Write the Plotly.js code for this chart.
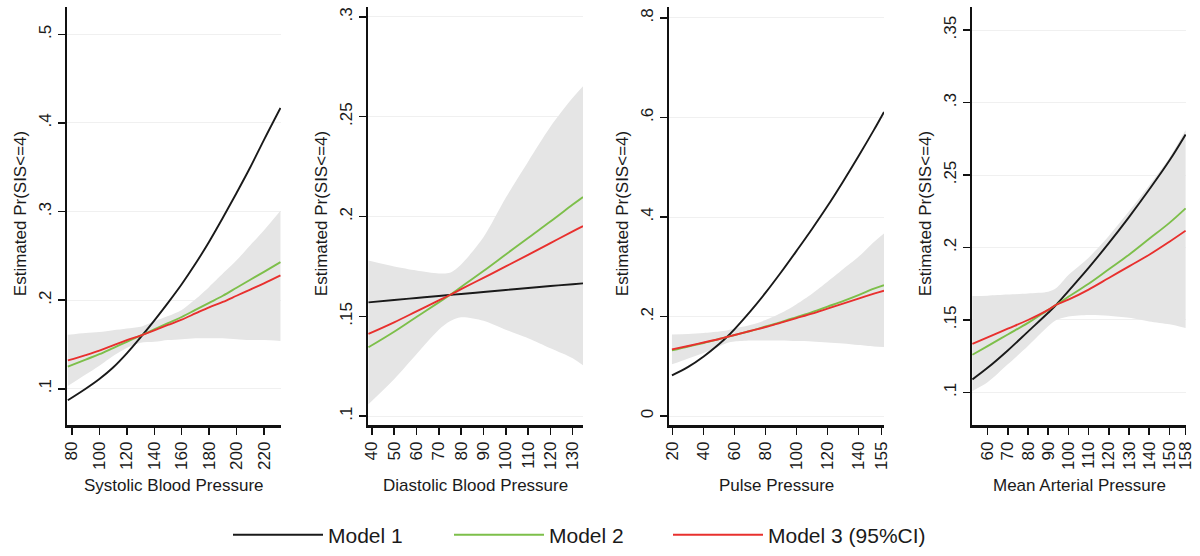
<!DOCTYPE html>
<html>
<head>
<meta charset="utf-8">
<script src="https://cdn.plot.ly/plotly-3.0.1.min.js"></script>
<style>html,body{margin:0;padding:0;background:#fff;}#chart{width:1200px;height:556px;}</style>
</head>
<body>
<div id="chart"></div>
<script>
// ---------- Panel 1: Systolic Blood Pressure ----------
const sbpX      = [77, 90, 100, 110, 120, 130, 140, 150, 160, 170, 180, 190, 200, 210, 220, 232];
const sbpModel1 = [0.087, 0.100, 0.111, 0.124, 0.140, 0.158, 0.177, 0.197, 0.218, 0.241, 0.266, 0.293, 0.321, 0.350, 0.381, 0.417];
const sbpModel2 = [0.125, 0.133, 0.139, 0.146, 0.153, 0.160, 0.167, 0.174, 0.181, 0.189, 0.197, 0.205, 0.214, 0.223, 0.232, 0.243];
const sbpModel3 = [0.132, 0.138, 0.143, 0.149, 0.155, 0.160, 0.166, 0.172, 0.178, 0.185, 0.192, 0.198, 0.205, 0.212, 0.219, 0.228];
const sbpUpper  = [0.161, 0.163, 0.164, 0.166, 0.168, 0.170, 0.176, 0.182, 0.189, 0.201, 0.215, 0.230, 0.245, 0.262, 0.279, 0.301];
const sbpLower  = [0.103, 0.116, 0.126, 0.137, 0.146, 0.152, 0.153, 0.155, 0.156, 0.157, 0.157, 0.157, 0.156, 0.155, 0.155, 0.154];

// ---------- Panel 2: Diastolic Blood Pressure ----------
const dbpX      = [38.5, 50, 60, 70, 75, 80, 90, 100, 110, 120, 130, 134.6];
const dbpModel1 = [0.157, 0.1582, 0.1592, 0.1602, 0.1607, 0.1612, 0.1622, 0.1632, 0.1642, 0.1652, 0.1661, 0.1665];
const dbpModel2 = [0.1345, 0.1423, 0.1497, 0.157, 0.1607, 0.1647, 0.1727, 0.181, 0.1893, 0.1975, 0.206, 0.2098];
const dbpModel3 = [0.1412, 0.147, 0.1525, 0.158, 0.1607, 0.1636, 0.1693, 0.175, 0.1808, 0.1867, 0.1926, 0.1952];
const dbpUpper  = [0.178, 0.175, 0.173, 0.1715, 0.1718, 0.176, 0.1896, 0.2094, 0.2275, 0.245, 0.2595, 0.2653];
const dbpLower  = [0.106, 0.1185, 0.131, 0.1433, 0.1475, 0.1495, 0.1478, 0.1433, 0.139, 0.134, 0.129, 0.1255];

// ---------- Panel 3: Pulse Pressure ----------
const ppX      = [19.5, 30, 40, 50, 55, 60, 70, 80, 90, 100, 110, 120, 130, 140, 150, 156.5];
const ppModel1 = [0.082, 0.099, 0.120, 0.145, 0.159, 0.175, 0.210, 0.248, 0.289, 0.332, 0.376, 0.422, 0.471, 0.522, 0.575, 0.611];
const ppModel2 = [0.132, 0.140, 0.147, 0.155, 0.159, 0.163, 0.171, 0.180, 0.189, 0.199, 0.209, 0.220, 0.231, 0.243, 0.256, 0.263];
const ppModel3 = [0.134, 0.141, 0.148, 0.155, 0.159, 0.163, 0.171, 0.179, 0.188, 0.197, 0.206, 0.216, 0.226, 0.236, 0.246, 0.252];
const ppUpper  = [0.164, 0.165, 0.167, 0.170, 0.172, 0.176, 0.183, 0.193, 0.207, 0.225, 0.246, 0.270, 0.295, 0.320, 0.350, 0.367];
const ppLower  = [0.104, 0.116, 0.127, 0.140, 0.147, 0.150, 0.152, 0.152, 0.152, 0.151, 0.150, 0.148, 0.146, 0.143, 0.140, 0.139];

// ---------- Panel 4: Mean Arterial Pressure ----------
const mapX      = [52.5, 60, 70, 80, 90, 94, 100, 110, 120, 130, 140, 150, 158];
const mapModel1 = [0.109, 0.117, 0.129, 0.142, 0.155, 0.1605, 0.170, 0.186, 0.203, 0.221, 0.240, 0.260, 0.278];
const mapModel2 = [0.126, 0.132, 0.140, 0.148, 0.157, 0.1605, 0.166, 0.175, 0.185, 0.195, 0.206, 0.217, 0.227];
const mapModel3 = [0.1335, 0.138, 0.144, 0.150, 0.157, 0.1605, 0.164, 0.171, 0.179, 0.187, 0.195, 0.204, 0.2116];
const mapUpper  = [0.1665, 0.1668, 0.1675, 0.1683, 0.1695, 0.172, 0.181, 0.193, 0.208, 0.225, 0.243, 0.262, 0.281];
const mapLower  = [0.101, 0.107, 0.1194, 0.132, 0.1456, 0.150, 0.1524, 0.1535, 0.153, 0.1515, 0.149, 0.147, 0.1444];

// ---------- Axis labels / ticks ----------
const xTitles = ["Systolic Blood Pressure", "Diastolic Blood Pressure", "Pulse Pressure", "Mean Arterial Pressure"];
const yTitle  = "Estimated Pr(SIS<=4)";
const modelNames = ["Model 1", "Model 2", "Model 3 (95%CI)"];

const xTickVals = [
  [80, 100, 120, 140, 160, 180, 200, 220],
  [40, 50, 60, 70, 80, 90, 100, 110, 120, 130],
  [20, 40, 60, 80, 100, 120, 140, 155],
  [60, 70, 80, 90, 100, 110, 120, 130, 140, 150, 158]
];
const yTickVals = [
  [0.1, 0.2, 0.3, 0.4, 0.5],
  [0.1, 0.15, 0.2, 0.25, 0.3],
  [0, 0.2, 0.4, 0.6, 0.8],
  [0.1, 0.15, 0.2, 0.25, 0.3, 0.35]
];
const yTickText = [
  [".1", ".2", ".3", ".4", ".5"],
  [".1", ".15", ".2", ".25", ".3"],
  ["0", ".2", ".4", ".6", ".8"],
  [".1", ".15", ".2", ".25", ".3", ".35"]
];

// ---------- Geometry (pixels) ----------
const W = 1200, H = 556;
const panelPx = [[67, 281], [368, 583], [669, 884], [972, 1186]];
const plotTop = 7, plotBottom = 430;
const xRanges = [[76.4, 232.4], [38.3, 134.6], [17.6, 156.5], [52.3, 158.2]];
const yRanges = [[0.0587, 0.531], [0.0954, 0.305], [-0.0185, 0.822], [0.0773, 0.366]];
const legendLeftPx = [228, 449, 668];

const COLORS = ["#1a1a1a", "#7dbf4a", "#e8302e"];
const BAND = "#e5e5e5";
const FONT = "Liberation Sans, Arial, Helvetica, sans-serif";

const panels = [
  {x: sbpX, m: [sbpModel1, sbpModel2, sbpModel3], up: sbpUpper, lo: sbpLower},
  {x: dbpX, m: [dbpModel1, dbpModel2, dbpModel3], up: dbpUpper, lo: dbpLower},
  {x: ppX,  m: [ppModel1, ppModel2, ppModel3],   up: ppUpper,  lo: ppLower},
  {x: mapX, m: [mapModel1, mapModel2, mapModel3], up: mapUpper, lo: mapLower}
];

const traces = [];
const layout = {
  width: W, height: H,
  margin: {l: 0, r: 0, t: 0, b: 0},
  paper_bgcolor: "#ffffff",
  plot_bgcolor: "#ffffff",
  font: {family: FONT, size: 17, color: "#1a1a1a"},
  showlegend: true,
  annotations: []
};

const legendIds = ["legend", "legend2", "legend3"];
legendIds.forEach((id, k) => {
  layout[id] = {
    orientation: "h", x: legendLeftPx[k] / W, xanchor: "left",
    y: (H - 541) / H, yanchor: "middle",
    font: {family: FONT, size: 21, color: "#1a1a1a"},
    itemwidth: 90, bgcolor: "rgba(0,0,0,0)", borderwidth: 0
  };
});

panels.forEach((p, i) => {
  const xa = i === 0 ? "x" : "x" + (i + 1);
  const ya = i === 0 ? "y" : "y" + (i + 1);
  // CI band (lower then upper filled to it)
  traces.push({x: p.x, y: p.lo, xaxis: xa, yaxis: ya, type: "scatter", mode: "lines",
    line: {width: 0, shape: "spline", smoothing: 0.8}, hoverinfo: "skip", showlegend: false});
  traces.push({x: p.x, y: p.up, xaxis: xa, yaxis: ya, type: "scatter", mode: "lines",
    fill: "tonexty", fillcolor: BAND, line: {width: 0, shape: "spline", smoothing: 0.8},
    hoverinfo: "skip", showlegend: false});
  p.m.forEach((ys, k) => {
    traces.push({x: p.x, y: ys, xaxis: xa, yaxis: ya, type: "scatter", mode: "lines",
      name: modelNames[k], legendgroup: modelNames[k], showlegend: i === 0,
      legend: legendIds[k],
      line: {color: COLORS[k], width: 1.9, shape: "spline", smoothing: 1}});
  });

  const xKey = i === 0 ? "xaxis" : "xaxis" + (i + 1);
  const yKey = i === 0 ? "yaxis" : "yaxis" + (i + 1);
  layout[xKey] = {
    domain: [panelPx[i][0] / W, panelPx[i][1] / W],
    anchor: ya, range: xRanges[i], automargin: false,
    showgrid: false, zeroline: false,
    showline: true, linecolor: "#111", linewidth: 2.5,
    ticks: "outside", ticklen: 7, tickwidth: 1.5, tickcolor: "#111",
    tickmode: "array", tickvals: xTickVals[i], ticktext: xTickVals[i].map(String),
    tickangle: -90, tickfont: {family: FONT, size: 17, color: "#1a1a1a"}
  };
  layout[yKey] = {
    domain: [(H - plotBottom) / H, (H - plotTop) / H],
    anchor: xa, range: yRanges[i], automargin: false,
    showgrid: true, gridcolor: "#f0f0f0", gridwidth: 1, zeroline: false,
    showline: true, linecolor: "#111", linewidth: 2.5,
    ticks: "outside", ticklen: 7, tickwidth: 1.5, tickcolor: "#111",
    tickmode: "array", tickvals: yTickVals[i], ticktext: yTickText[i],
    tickangle: -90, tickfont: {family: FONT, size: 17, color: "#1a1a1a"}
  };
  // y title
  layout.annotations.push({
    text: yTitle, xref: "paper", yref: "paper",
    x: (panelPx[i][0] - 47) / W, y: (H - (plotTop + plotBottom) / 2 + 2) / H,
    xanchor: "center", yanchor: "middle", textangle: -90, showarrow: false,
    font: {family: FONT, size: 17, color: "#1a1a1a"}
  });
  // x title
  layout.annotations.push({
    text: xTitles[i], xref: "paper", yref: "paper",
    x: ((panelPx[i][0] + panelPx[i][1]) / 2) / W, y: (H - 491) / H,
    xanchor: "center", yanchor: "middle", showarrow: false,
    font: {family: FONT, size: 17, color: "#1a1a1a"}
  });
});

Plotly.newPlot("chart", traces, layout, {displayModeBar: false, staticPlot: true});
</script>
</body>
</html>
